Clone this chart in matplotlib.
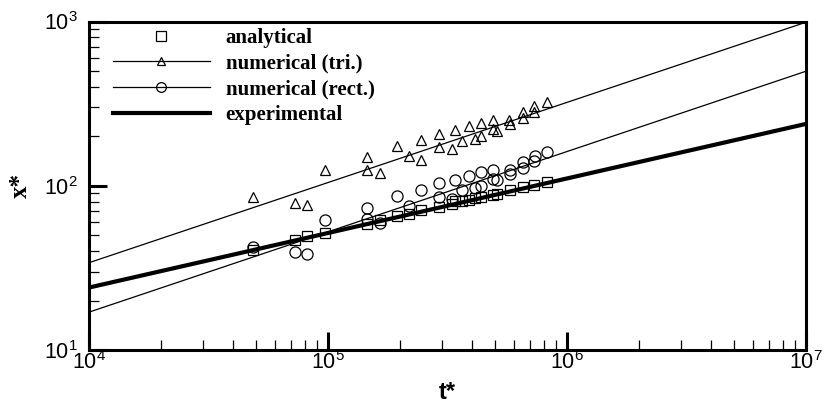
import math
import matplotlib
matplotlib.use("Agg")
import matplotlib.pyplot as plt
from matplotlib.ticker import LogLocator, FuncFormatter, NullFormatter
from matplotlib.lines import Line2D

# ---------------- data ----------------
t_tri = [4.87e4, 7.28e4, 8.19e4, 9.71e4, 1.46e5, 1.46e5, 1.65e5, 1.95e5, 2.18e5,
         2.44e5, 2.46e5, 2.91e5, 2.91e5, 3.29e5, 3.40e5, 3.63e5, 3.89e5, 4.12e5,
         4.37e5, 4.37e5, 4.88e5, 4.92e5, 5.08e5, 5.74e5, 5.80e5, 6.53e5, 6.53e5,
         7.31e5, 7.31e5, 8.23e5]
x_tri = [84.9, 78.4, 76.6, 124.0, 148.8, 124.0, 119.5, 173.6, 150.9,
         190.8, 144.1, 206.7, 171.2, 168.1, 219.5, 186.7, 232.2, 193.5,
         242.2, 200.4, 251.5, 222.0, 215.6, 250.1, 237.8, 279.9, 258.7,
         281.4, 304.4, 322.1]

t_rect = [4.87e4, 7.28e4, 8.19e4, 9.71e4, 1.46e5, 1.46e5, 1.65e5, 1.95e5, 2.18e5,
          2.44e5, 2.91e5, 2.91e5, 3.29e5, 3.40e5, 3.63e5, 3.89e5, 4.12e5, 4.37e5,
          4.37e5, 4.88e5, 4.92e5, 5.08e5, 5.77e5, 5.77e5, 6.53e5, 6.55e5, 7.30e5,
          7.33e5, 8.23e5]
x_rect = [42.1, 39.4, 38.3, 62.0, 73.7, 62.7, 59.5, 86.1, 74.8,
          94.5, 103.9, 85.3, 83.0, 108.8, 93.6, 115.1, 96.8, 120.5,
          99.0, 125.2, 109.9, 107.7, 125.2, 118.4, 128.2, 138.7, 140.7,
          152.4, 160.6]

t_ana = [4.87e4, 7.28e4, 8.19e4, 9.71e4, 1.46e5, 1.65e5, 1.95e5, 2.18e5, 2.44e5,
         2.91e5, 3.29e5, 3.40e5, 3.63e5, 3.89e5, 4.12e5, 4.37e5, 4.92e5, 5.08e5,
         5.77e5, 6.53e5, 7.31e5, 8.23e5]
x_ana = [40.7, 46.9, 49.1, 51.5, 58.7, 62.0, 65.0, 67.5, 70.7,
         74.1, 77.3, 80.2, 81.0, 82.2, 84.1, 85.3, 88.1, 89.4,
         93.6, 97.6, 101.4, 105.8]

t_fit = [1e4, 1e7]
x_fit_tri = [34.0, 990.0]
x_fit_rect = [17.0, 498.0]
x_fit_exp = [24.0, 238.0]

labels = ["analytical", "numerical (tri.)", "numerical (rect.)", "experimental"]

# ---------------- figure ----------------
fig = plt.figure(figsize=(8.24, 4.04), dpi=100)
ax = fig.add_axes([89/824, 1 - 350/404, (806-89)/824, (350-21.5)/404])

ax.set_xscale("log")
ax.set_yscale("log")
ax.set_xlim(1e4, 1e7)
ax.set_ylim(10, 1000)

mk = dict(linestyle="none", markerfacecolor="none", markeredgecolor="black",
          markeredgewidth=0.9)
ax.plot(t_fit, x_fit_tri, color="black", lw=0.9)
ax.plot(t_fit, x_fit_rect, color="black", lw=0.9)
ax.plot(t_fit, x_fit_exp, color="black", lw=3.0, solid_capstyle="butt")
ax.plot(t_ana, x_ana, marker="s", markersize=7.5, **mk)
ax.plot(t_tri, x_tri, marker="^", markersize=7, **mk)
ax.plot(t_rect, x_rect, marker="o", markersize=8, **mk)

for s in ax.spines.values():
    s.set_linewidth(2.2)

ax.xaxis.set_major_locator(LogLocator(base=10, numticks=10))
ax.yaxis.set_major_locator(LogLocator(base=10, numticks=10))
ax.xaxis.set_minor_locator(LogLocator(base=10, subs=range(2, 10), numticks=20))
ax.yaxis.set_minor_locator(LogLocator(base=10, subs=range(2, 10), numticks=20))
ax.xaxis.set_minor_formatter(NullFormatter())
ax.yaxis.set_minor_formatter(NullFormatter())
fmt = FuncFormatter(lambda v, p: r"$\mathregular{10^{%d}}$" % round(math.log10(v)))
ax.xaxis.set_major_formatter(fmt)
ax.yaxis.set_major_formatter(fmt)

ax.tick_params(which="major", direction="in", length=13, width=2.2,
               top=False, right=False, labelsize=15.5,
               labelfontfamily="Liberation Sans")
ax.tick_params(which="minor", direction="in", length=7, width=0.9,
               top=False, right=False)
ax.tick_params(axis="x", which="major", pad=1)
ax.tick_params(axis="y", which="major", pad=8)

ax.set_xlabel("t*", fontsize=17, fontweight="bold", family="Liberation Sans",
              labelpad=5)
ax.set_ylabel("x*", fontsize=18, fontweight="bold", family="Liberation Serif")
ax.yaxis.set_label_coords(-0.08, 0.5)

handles = [
    Line2D([], [], linestyle="none", marker="s", markersize=7.5,
           markerfacecolor="none", markeredgecolor="black", markeredgewidth=0.9),
    Line2D([], [], color="black", lw=0.9, marker="^", markersize=6,
           markerfacecolor="none", markeredgecolor="black", markeredgewidth=0.9),
    Line2D([], [], color="black", lw=0.9, marker="o", markersize=7,
           markerfacecolor="none", markeredgecolor="black", markeredgewidth=0.9),
    Line2D([], [], color="black", lw=3.0),
]
leg = ax.legend(handles, labels, loc="upper left",
                bbox_to_anchor=((113-89)/717, (350-28)/328.5),
                frameon=False, borderaxespad=0, borderpad=0,
                handlelength=4.65, handletextpad=0.75, labelspacing=0.27,
                prop={"family": "Liberation Serif", "weight": "bold", "size": 15})

fig.savefig("out.png", dpi=100)
